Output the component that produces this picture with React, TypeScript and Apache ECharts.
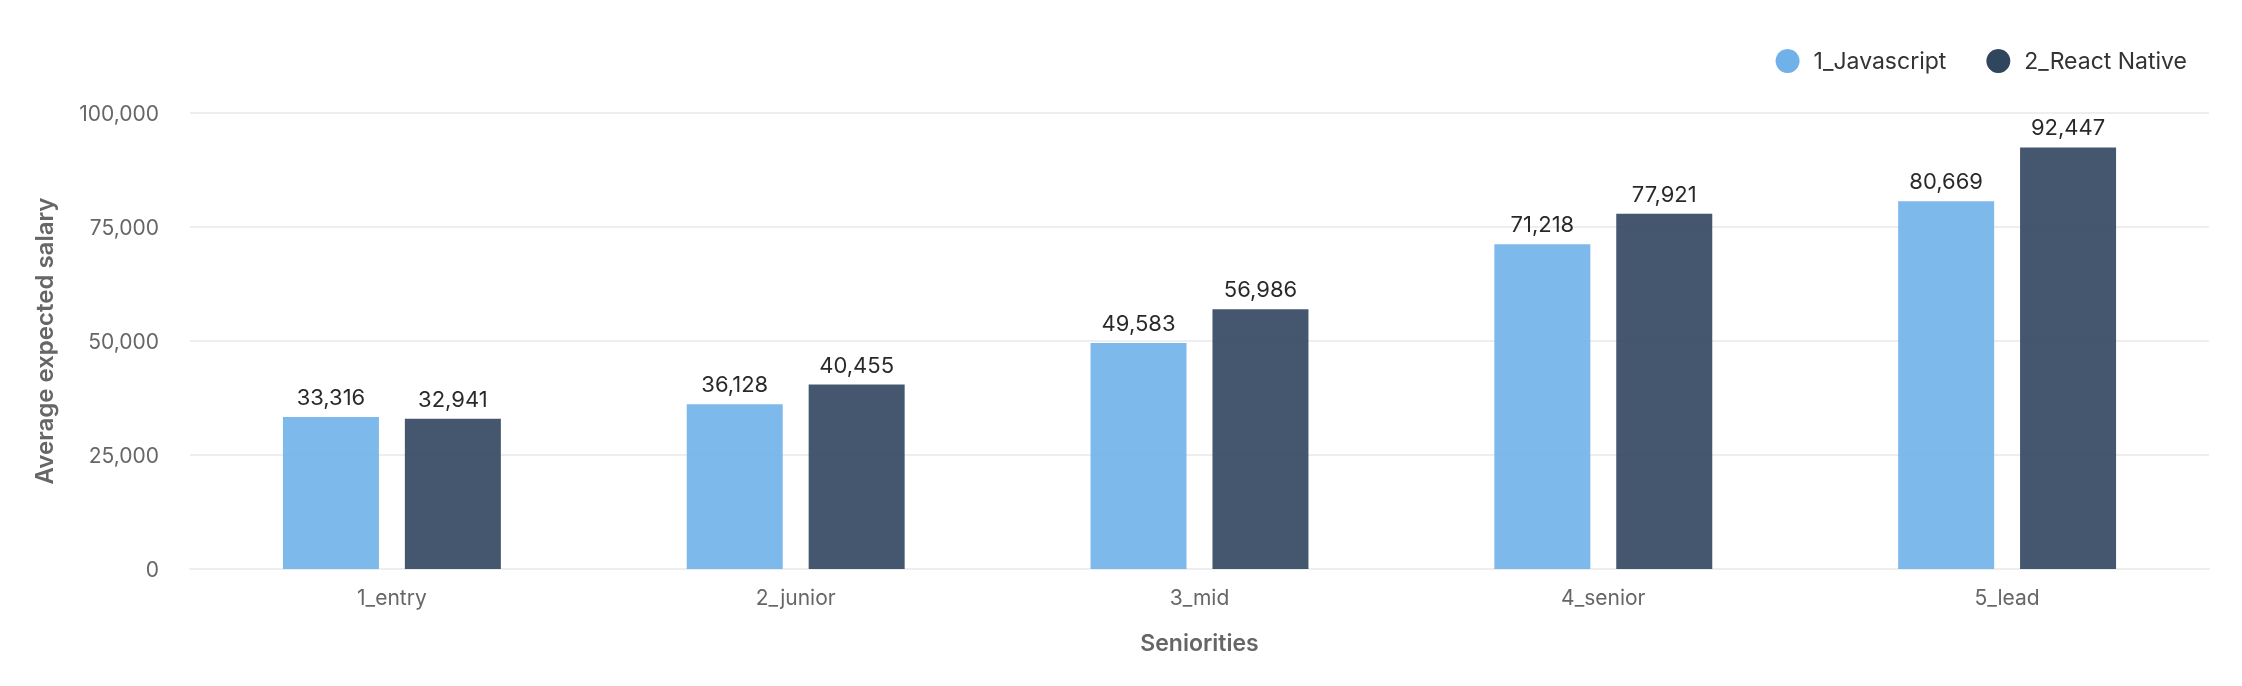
import { useEffect, useRef } from "react";
import * as echarts from "echarts";

const seniorities = ["1_entry", "2_junior", "3_mid", "4_senior", "5_lead"];
const javascriptSalaries = [33316, 36128, 49583, 71218, 80669];
const reactNativeSalaries = [32941, 40455, 56986, 77921, 92447];
const seriesNames = ["1_Javascript", "2_React Native"];

const FONT = "Inter, 'Noto Sans', sans-serif";

const App = () => {
  const chartRef = useRef<HTMLDivElement>(null);

  useEffect(() => {
    if (!chartRef.current) {
      return;
    }
    const chart = echarts.init(chartRef.current, null, { renderer: "svg" });

    const fmt = (v: number) => v.toLocaleString("en-US");

    const barLabel = {
      show: true,
      position: "top" as const,
      distance: 9,
      color: "#111111",
      fontFamily: FONT,
      fontSize: 22,
      formatter: (p: any) => fmt(p.value),
    };

    const option: echarts.EChartsOption = {
      animation: false,
      color: ["#70B1E9", "#30455E"],
      textStyle: { fontFamily: FONT },
      legend: {
        data: seriesNames,
        top: 44,
        right: 50,
        icon: "circle",
        itemWidth: 42,
        itemHeight: 24,
        itemGap: 40,
        itemStyle: { opacity: 1 },
        textStyle: {
          color: "#333333",
          fontFamily: FONT,
          fontSize: 23,
        },
      },
      grid: {
        top: 113,
        bottom: 117,
        left: 190,
        right: 33,
      },
      xAxis: {
        type: "category",
        data: seniorities,
        name: "Seniorities",
        nameLocation: "middle",
        nameGap: 62,
        nameTextStyle: {
          color: "#666666",
          fontFamily: FONT,
          fontSize: 23,
          fontWeight: 600,
        },
        axisLine: { show: true, lineStyle: { color: "#EEEEEE", width: 2 } },
        axisTick: { show: false },
        axisLabel: {
          color: "#666666",
          fontFamily: FONT,
          fontSize: 21,
          margin: 18,
        },
      },
      yAxis: {
        type: "value",
        min: 0,
        max: 100000,
        interval: 25000,
        name: "Average expected salary",
        nameLocation: "middle",
        nameGap: 134,
        nameTextStyle: {
          color: "#666666",
          fontFamily: FONT,
          fontSize: 24,
          fontWeight: 600,
        },
        axisLine: { show: false },
        axisTick: { show: false },
        axisLabel: {
          color: "#666666",
          fontFamily: FONT,
          fontSize: 21,
          margin: 31,
          formatter: (v: number) => fmt(v),
        },
        splitLine: { lineStyle: { color: "#EEEEEE", width: 2 } },
      },
      series: [
        {
          name: seriesNames[0],
          type: "bar",
          data: javascriptSalaries,
          barWidth: 96,
          barGap: "27%",
          itemStyle: { opacity: 0.9 },
          label: barLabel,
        },
        {
          name: seriesNames[1],
          type: "bar",
          data: reactNativeSalaries,
          barWidth: 96,
          barGap: "27%",
          itemStyle: { opacity: 0.9 },
          label: barLabel,
        },
      ],
    };

    chart.setOption(option);

    return () => {
      chart.dispose();
    };
  }, []);

  return (
    <div
      ref={chartRef}
      style={{ position: "fixed", left: 0, top: 0, width: "100vw", height: "100vh" }}
    />
  );
};

export default App;
